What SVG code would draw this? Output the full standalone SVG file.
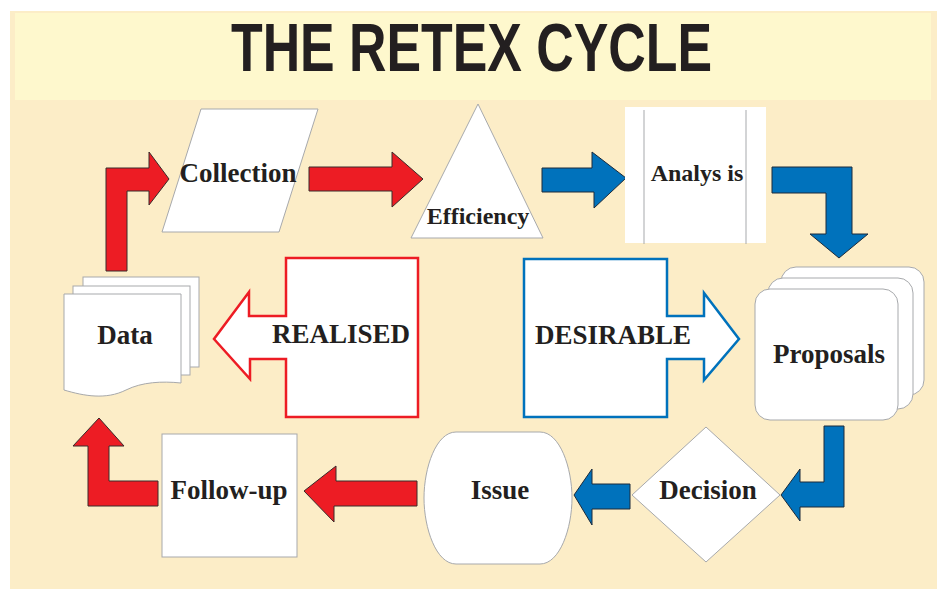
<svg xmlns="http://www.w3.org/2000/svg" width="942" height="589" viewBox="0 0 942 589">
  <style>
    .node { fill: #ffffff; stroke: #a7a9ac; stroke-width: 1; }
    .label { font-family: "Liberation Serif", "Times New Roman", serif; font-weight: bold; font-size: 27px; fill: #231f20; text-anchor: middle; }
    .small { font-size: 24px; }
    .red { fill: #ed1c24; stroke: #3a2a2a; stroke-width: 1; stroke-linejoin: miter; }
    .blue { fill: #0072bc; stroke: #1c2a3a; stroke-width: 1; stroke-linejoin: miter; }
    .title { font-family: "Liberation Sans", Arial, sans-serif; font-weight: bold; font-size: 68px; fill: #231f20; }
  </style>

  <!-- background panel and header band -->
  <rect x="0" y="0" width="942" height="589" fill="#ffffff"/>
  <rect x="10" y="11" width="927" height="578" fill="#fcedc7"/>
  <rect x="15" y="13" width="916" height="87" fill="#fef8cd"/>
  <text class="title" x="231" y="71" textLength="481" lengthAdjust="spacingAndGlyphs">THE RETEX CYCLE</text>

  <!-- connectors -->
  <g id="connectors">
    <polygon class="red" points="106,271 106,168 149,168 149,152 169,179 149,205 149,191 127,191 127,271"/>
    <polygon class="red" points="309,167 392,167 392,152 423,179 392,207 392,191 309,191"/>
    <polygon class="blue" points="542,168 592,168 592,152 626,178 594,208 594,192 542,192"/>
    <polygon class="blue" points="772,167 852,167 852,234 868,234 839,258 810,234 826,234 826,193 772,193"/>
    <polygon class="blue" points="824,426 844,426 844,507 800,507 800,521 781,495 800,469 800,482 824,482"/>
    <polygon class="blue" points="630,484 592,484 592,469 574,495 592,525 592,509 630,509"/>
    <polygon class="red" points="417,481 336,481 336,466 304,491 334,522 334,506 417,506"/>
    <polygon class="red" points="158,481 158,506 88,506 88,446 73,446 99,418 124,446 109,446 109,481"/>
  </g>

  <g id="collection">
    <polygon class="node" points="201,109 318,109 279,232 162,232"/>
    <text class="label" x="238" y="182">Collection</text>
  </g>

  <g id="efficiency">
    <polygon class="node" points="478,104 543,238 411,238"/>
    <text class="label small" x="478" y="224">Efficiency</text>
  </g>

  <g id="analysis">
    <rect x="625" y="107" width="141" height="136" fill="#ffffff"/>
    <line x1="644" y1="110" x2="644" y2="244" stroke="#a7a9ac" stroke-width="1"/>
    <line x1="746" y1="110" x2="746" y2="244" stroke="#a7a9ac" stroke-width="1"/>
    <text class="label small" x="697" y="181">Analys is</text>
  </g>

  <g id="proposals">
    <rect class="node" x="781" y="267" width="143" height="128" rx="15"/>
    <rect class="node" x="768" y="278" width="145" height="131" rx="15"/>
    <rect class="node" x="755" y="289" width="143" height="131" rx="15"/>
    <text class="label" x="829" y="363">Proposals</text>
  </g>

  <g id="desirable">
    <polygon points="524,259 667,259 667,316 704,316 704,293 739,339 704,380 704,359 667,359 667,417 524,417" fill="#ffffff" stroke="#0072bc" stroke-width="2.5"/>
    <text class="label" x="613" y="344">DESIRABLE</text>
  </g>

  <g id="realised">
    <polygon points="286,258 418,258 418,417 286,417 286,359 250,359 250,379 214,339 249,292 249,316 286,316" fill="#ffffff" stroke="#ed1c24" stroke-width="2.5"/>
    <text class="label" x="341" y="343">REALISED</text>
  </g>

  <g id="data">
    <rect class="node" x="83" y="277" width="116" height="90"/>
    <rect class="node" x="73" y="286" width="117" height="89"/>
    <path class="node" d="M64,294 H181 V383 C162,381 142,382 126,390 C106,400 84,396 64,390 Z"/>
    <text class="label" x="125" y="344">Data</text>
  </g>

  <g id="decision">
    <polygon class="node" points="706,427 780,495 706,562 632,495"/>
    <text class="label" x="708" y="499">Decision</text>
  </g>

  <g id="issue">
    <path class="node" d="M456,432 H540 C560,432 572,468 572,498 C572,528 560,564 540,564 H456 C436,564 424,528 424,498 C424,468 436,432 456,432 Z"/>
    <text class="label" x="500" y="499">Issue</text>
  </g>

  <g id="follow-up">
    <rect class="node" x="162" y="434" width="135" height="123"/>
    <text class="label" x="229" y="499">Follow-up</text>
  </g>
</svg>
